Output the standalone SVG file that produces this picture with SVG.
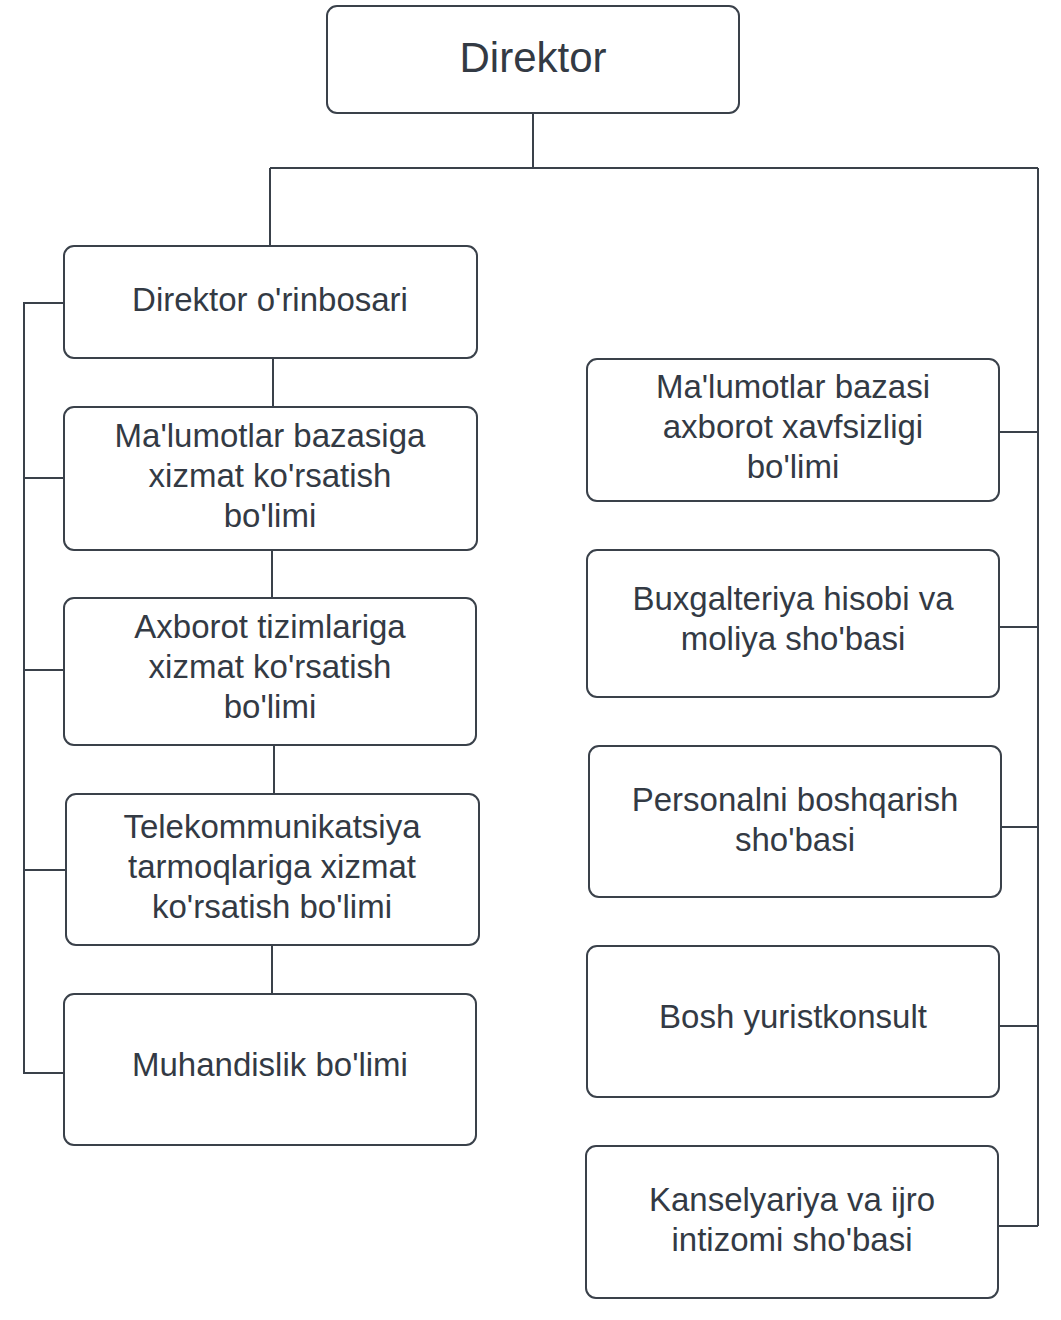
<svg xmlns="http://www.w3.org/2000/svg" width="1061" height="1320" viewBox="0 0 1061 1320">
<style>
.box{fill:#ffffff;stroke:#3a414a;stroke-width:2}
.ln{fill:none;stroke:#3a414a;stroke-width:2}
text{font-family:"Liberation Sans",Arial,sans-serif;font-size:33px;fill:#333a44;text-anchor:middle}
.big{font-size:42px}
</style>
<rect width="1061" height="1320" fill="#ffffff"/>
<g id="connectors">
<path class="ln" d="M533,113 V168 M270,168 H1038 M270,168 V246 M1038,168 V1226"/>
<path class="ln" d="M999,432 H1038 M999,627 H1038 M1001,827 H1038 M999,1026 H1038 M998,1226 H1038"/>
<path class="ln" d="M64,303 H24 V1073 H64 M24,478 H64 M24,670 H64 M24,870 H66"/>
<path class="ln" d="M273,358 V407 M272,550 V598 M274,745 V794 M272,945 V994"/>
</g>
<g id="direktor"><rect class="box" x="327" y="6" width="412" height="107" rx="10"/><text class="big" x="533" y="72">Direktor</text></g>
<g id="orinbosar"><rect class="box" x="64" y="246" width="413" height="112" rx="10"/><text x="270" y="311">Direktor o'rinbosari</text></g>
<g id="malumotlar-bazasiga"><rect class="box" x="64" y="407" width="413" height="143" rx="10"/><text x="270" y="447">Ma'lumotlar bazasiga</text><text x="270" y="487">xizmat ko'rsatish</text><text x="270" y="527">bo'limi</text></g>
<g id="axborot-tizimlariga"><rect class="box" x="64" y="598" width="412" height="147" rx="10"/><text x="270" y="638">Axborot tizimlariga</text><text x="270" y="678">xizmat ko'rsatish</text><text x="270" y="718">bo'limi</text></g>
<g id="telekommunikatsiya"><rect class="box" x="66" y="794" width="413" height="151" rx="10"/><text x="272" y="838">Telekommunikatsiya</text><text x="272" y="878">tarmoqlariga xizmat</text><text x="272" y="918">ko'rsatish bo'limi</text></g>
<g id="muhandislik"><rect class="box" x="64" y="994" width="412" height="151" rx="10"/><text x="270" y="1076">Muhandislik bo'limi</text></g>
<g id="xavfsizlik"><rect class="box" x="587" y="359" width="412" height="142" rx="10"/><text x="793" y="398">Ma'lumotlar bazasi</text><text x="793" y="438">axborot xavfsizligi</text><text x="793" y="478">bo'limi</text></g>
<g id="buxgalteriya"><rect class="box" x="587" y="550" width="412" height="147" rx="10"/><text x="793" y="610">Buxgalteriya hisobi va</text><text x="793" y="650">moliya sho'basi</text></g>
<g id="personal"><rect class="box" x="589" y="746" width="412" height="151" rx="10"/><text x="795" y="811">Personalni boshqarish</text><text x="795" y="851">sho'basi</text></g>
<g id="yurist"><rect class="box" x="587" y="946" width="412" height="151" rx="10"/><text x="793" y="1028">Bosh yuristkonsult</text></g>
<g id="kanselyariya"><rect class="box" x="586" y="1146" width="412" height="152" rx="10"/><text x="792" y="1211">Kanselyariya va ijro</text><text x="792" y="1251">intizomi sho'basi</text></g>
</svg>
